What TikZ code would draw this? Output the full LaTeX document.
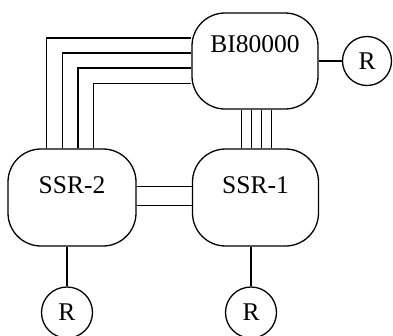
\documentclass[tikz,border=0pt]{standalone}
\usepackage{fontspec}
\setmainfont{Liberation Serif}
\usetikzlibrary{calc}
\begin{document}
\begin{tikzpicture}[x=1pt,y=-1pt,
  every path/.style={line width=1.3pt},
  box/.style={draw,rectangle,rounded corners=33pt,inner xsep=0pt,inner ysep=0pt,
    font=\fontsize{25.5}{30}\selectfont},
  rnode/.style={draw,circle,minimum size=50pt,inner sep=0pt,
    font=\fontsize{25.5}{30}\selectfont},
  wire/.style={line width=1.3pt}]
\useasboundingbox (0,0) rectangle (393,335);
% boxes (text baseline set by text height/depth)
\node[box,minimum width=126pt,text height=39pt,text depth=57pt] (bi) at (255,61) {BI80000};
\node[box,minimum width=128pt,text height=44pt,text depth=53pt] (ssr2) at (72,197.5) {SSR-2};
\node[box,minimum width=126pt,text height=44pt,text depth=53pt] (ssr1) at (255.5,197.5) {SSR-1};
% routers
\node[rnode,minimum size=49pt] (rr) at (367,61) {R};
\node[rnode,minimum size=51pt] (rl) at (67,312.5) {R};
\node[rnode,minimum size=51pt] (rm) at (251,312.5) {R};
% SSR-2 -- BI80000 (four links)
\draw[wire] ($(ssr2.north west)+(39,0)$) |- ($(bi.north west)+(0,25.5)$);
\draw[wire] ($(ssr2.north west)+(55,0)$) |- ($(bi.north west)+(0,40.5)$);
\draw[wire] ($(ssr2.north west)+(70.5,0)$) |- ($(bi.north west)+(0,55.5)$);
\draw[wire] ($(ssr2.north west)+(86,0)$) |- ($(bi.north west)+(0,71)$);
% BI80000 -- SSR-1 (four links)
\foreach \dx/\nm in {50/a,60/b,70/c,80/d}{
  \draw[wire] ($(bi.south west)+(\dx,0)$) coordinate (v\nm) -- (v\nm |- ssr1.north);
}
% SSR-2 -- SSR-1 (two links)
\draw[wire] ($(ssr2.north east)+(0,38)$) coordinate (h1) -- (h1 -| ssr1.west);
\draw[wire] ($(ssr2.north east)+(0,57)$) coordinate (h2) -- (h2 -| ssr1.west);
% router links
\draw[wire] (bi.east) -- (rr.west);
\draw[wire] (rl.north) -- (rl.north |- ssr2.south);
\draw[wire] (rm.north) -- (rm.north |- ssr1.south);
\end{tikzpicture}
\end{document}
